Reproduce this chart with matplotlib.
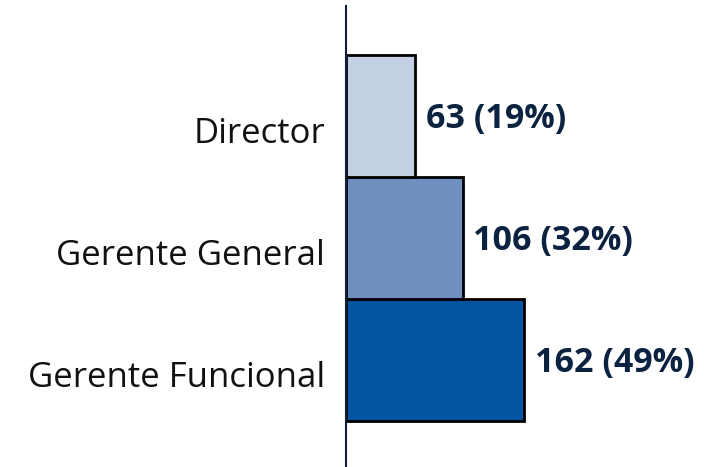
import matplotlib
matplotlib.use("Agg")
import matplotlib.pyplot as plt
from matplotlib.transforms import ScaledTranslation

categories = ["Gerente Funcional", "Gerente General", "Director"]
values = [162, 106, 63]
percents = [49, 32, 19]
colors = ["#03559f", "#6e8fbf", "#c3cfe2"]

plt.rcParams['font.family'] = ['Open Sans', 'DejaVu Sans']

fig = plt.figure(figsize=(7.22, 4.67), dpi=100)
ax = fig.add_axes([346/722, 0, 376/722, 461/467])

y = list(range(len(categories)))
ax.barh(y, values, height=1.0, color=colors, edgecolor="black", linewidth=2.0)

for yi, v, p in zip(y, values, percents):
    ax.annotate(f"{v} ({p}%)", xy=(v, yi), xytext=(7.5, -2), textcoords="offset points",
                ha="left", va="center", fontsize=24.5, fontweight="bold", color="#0b2240")

ax.set_yticks(y)
ax.set_yticklabels(categories, fontsize=25, color="#111111")
ax.tick_params(axis="y", length=0, pad=15)
off = ScaledTranslation(0, -14/100, fig.dpi_scale_trans)
for lab in ax.get_yticklabels():
    lab.set_transform(lab.get_transform() + off)
ax.set_xticks([])
ax.set_xlim(0, 376/1.1)
ax.set_ylim(-0.5 - 0.377, 2.5 + 0.40)
for s in ["top", "right", "bottom"]:
    ax.spines[s].set_visible(False)
ax.spines["left"].set_color("#0d1f3c")
ax.spines["left"].set_linewidth(1.5)

fig.savefig("out.png", dpi=100)
